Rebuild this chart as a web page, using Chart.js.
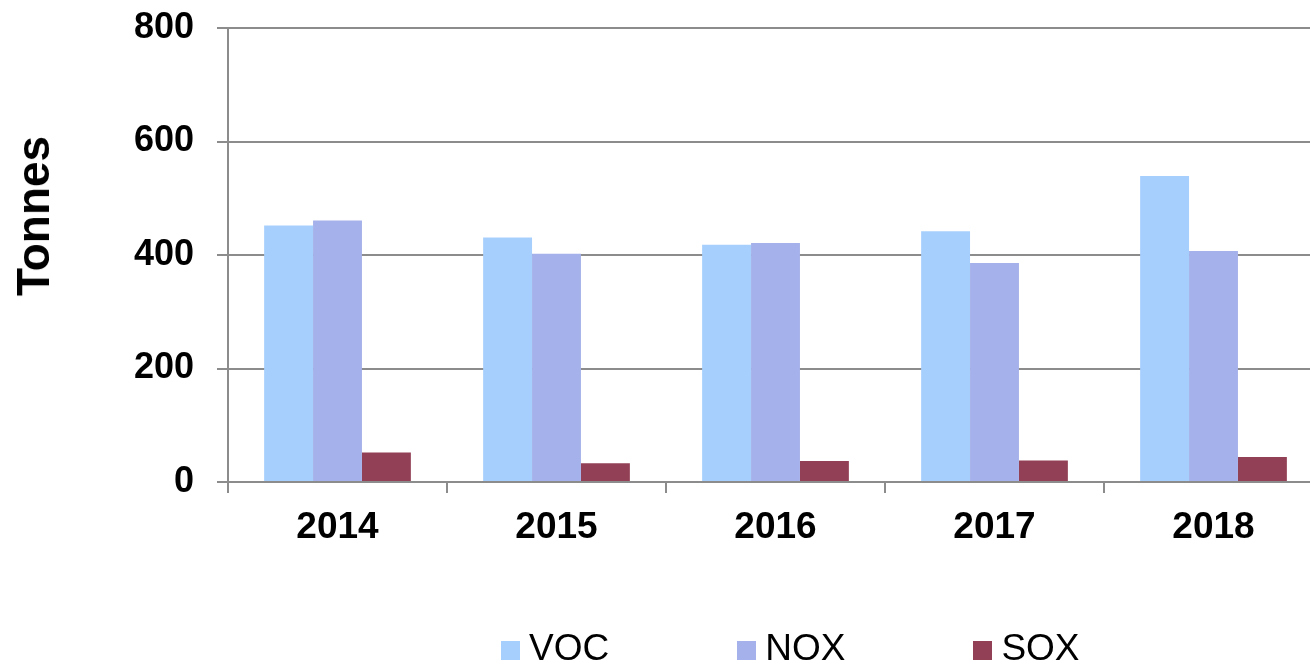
<!DOCTYPE html>
<html>
<head>
<meta charset="utf-8">
<script src="https://cdn.jsdelivr.net/npm/chart.js@4"></script>
<style>
  body { margin: 0; background: #fff; }
  #wrap { position: relative; width: 1310px; height: 667px; overflow: hidden; }
  #myChart { position: absolute; left: 0; top: 0; }
  #yTitle {
    position: absolute; left: 33px; top: 216px;
    transform: translate(-50%, -50%) rotate(-90deg);
    font: bold 46px "Liberation Sans", Arial, sans-serif; color: #000; white-space: nowrap;
  }
  #legend {
    position: absolute; left: 501px; top: 626px; height: 44px;
    display: flex; align-items: center; gap: 128px;
    font: 37px "Liberation Sans", Arial, sans-serif; color: #000;
  }
  .item { display: flex; align-items: center; }
  .box { width: 19px; height: 19px; margin-right: 9px; margin-top: 4px; }
</style>
</head>
<body>
<div id="wrap">
  <canvas id="myChart" width="1330" height="667"></canvas>
  <div id="yTitle">Tonnes</div>
  <div id="legend"></div>
</div>
<script>
// Datos
const anios = ['2014', '2015', '2016', '2017', '2018'];
const voc = [452, 431, 418, 442, 539];
const nox = [461, 402, 421, 386, 407];
const sox = [52, 33, 37, 38, 44];
const yTicks = [0, 200, 400, 600, 800];

const series = [
    { label: 'VOC', data: voc, color: '#a7cffd' },
    { label: 'NOX', data: nox, color: '#a5b1ea' },
    { label: 'SOX', data: sox, color: '#924055' }
];

const fuente = '"Liberation Sans", Arial, sans-serif';
const gris = '#8c8c8c';

const ctx = document.getElementById('myChart').getContext('2d');
const myChart = new Chart(ctx, {
    type: 'bar',
    data: {
        labels: anios,
        datasets: series.map(s => ({
            label: s.label,
            data: s.data,
            backgroundColor: s.color,
            borderWidth: 0,
            categoryPercentage: 0.67,
            barPercentage: 1
        }))
    },
    options: {
        responsive: false,
        animation: false,
        layout: { padding: { top: 28, right: 7, left: 0, bottom: 0 } },
        plugins: {
            legend: { display: false },
            tooltip: { enabled: false }
        },
        scales: {
            x: {
                afterFit: scale => { scale.height = 185; scale.paddingLeft = 0; scale.paddingRight = 0; },
                grid: {
                    offset: true,
                    drawOnChartArea: false,
                    drawTicks: true,
                    tickLength: 11,
                    color: gris,
                    lineWidth: 2
                },
                border: { display: true, color: gris, width: 2 },
                ticks: {
                    color: '#000',
                    padding: 13,
                    font: { family: fuente, size: 37, weight: 'bold' }
                }
            },
            y: {
                min: 0,
                max: 800,
                afterFit: scale => { scale.width = 228; scale.paddingTop = 0; scale.paddingBottom = 0; },
                afterBuildTicks: scale => { scale.ticks = yTicks.map(v => ({ value: v })); },
                grid: {
                    color: gris,
                    lineWidth: 2,
                    tickLength: 11
                },
                border: { display: true, color: gris, width: 2 },
                ticks: {
                    color: '#000',
                    padding: 23,
                    font: { family: fuente, size: 36, weight: 'bold' }
                }
            }
        }
    }
});

// Leyenda en HTML
const legend = document.getElementById('legend');
series.forEach(s => {
    const item = document.createElement('div');
    item.className = 'item';
    item.innerHTML = `<span class="box" style="background:${s.color}"></span><span>${s.label}</span>`;
    legend.appendChild(item);
});
</script>
</body>
</html>
